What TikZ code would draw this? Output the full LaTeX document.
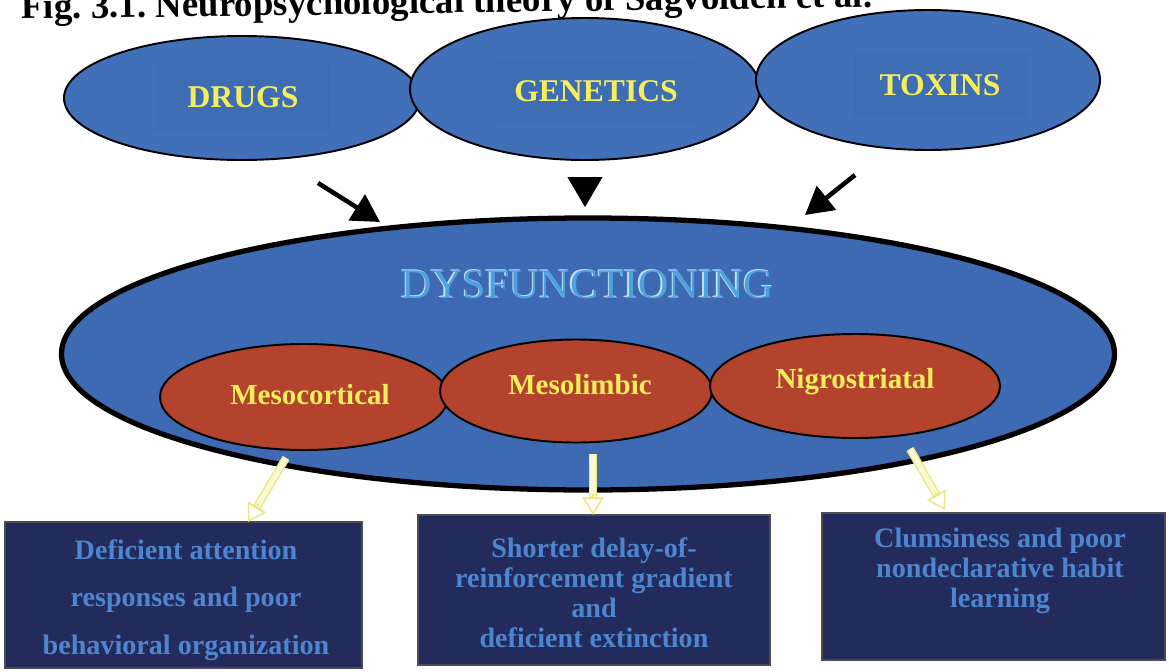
\documentclass[tikz,border=0pt]{standalone}
\usepackage{fontspec}
\setmainfont{Liberation Serif}
\usetikzlibrary{shapes.geometric,arrows.meta,calc}
\frenchspacing
\definecolor{blueF}{HTML}{4170B8}
\definecolor{blueD}{HTML}{3E6DB4}
\definecolor{dysF}{HTML}{3D6AB2}
\definecolor{redF}{HTML}{B3432C}
\definecolor{yellowT}{HTML}{F4EE5C}
\definecolor{dysT}{HTML}{4EA2DE}
\definecolor{dysH}{HTML}{C4DEF4}
\definecolor{boxF}{HTML}{232B5C}
\definecolor{boxT}{HTML}{4E85CF}
\definecolor{yFill}{HTML}{FBF8D6}
\definecolor{yHead}{HTML}{EDE67E}
\tikzset{
  topell/.style={ellipse, draw=black, line width=1.1pt, fill=blueF, inner sep=0pt},
  redell/.style={ellipse, draw=black, line width=1.1pt, fill=redF, inner sep=0pt},
  toplabel/.style={fill=blueD, text=yellowT, inner sep=0pt, font=\bfseries\fontsize{18}{22}\selectfont},
  redlabel/.style={text=yellowT, inner sep=0pt, font=\bfseries\fontsize{16.5}{20}\selectfont},
  blkarrow/.style={line width=2.6pt, -{Triangle[length=0.55cm,width=0.6cm]}},
  yshaftout/.style={draw=yHead, line width=4.6pt, shorten >=9pt},
  yshaftin/.style={draw=yFill, line width=3pt, shorten >=9.5pt},
  yhead/.style={draw=yHead, line width=0.8pt, -{Triangle[open,length=10pt,width=12pt]}},
  outbox/.style={draw=black!70, line width=0.6pt, fill=boxF, inner sep=0pt},
  boxtext/.style={text=boxT, align=center, inner sep=0pt, font=\bfseries\fontsize{16}{17}\selectfont},
  dystext/.style={inner sep=0pt, font=\fontsize{24}{28}\selectfont},
}
\begin{document}
\begin{tikzpicture}
\useasboundingbox (0,0) rectangle (23.38,-13.42);
\clip (0,0) rectangle (23.38,-13.42);
\fill[white] (0,0) rectangle (23.38,-13.42);
% title (cut at top, as in the scan)
\node[anchor=base west, inner sep=0pt, rotate=0.8, font=\bfseries\fontsize{21}{24}\selectfont] (title) at (0.42,-0.38) {Fig. 3.1. Neuropsychological theory of Sagvolden et al.};
% top ellipses
\node[topell, minimum width=7.12cm, minimum height=2.48cm] (drugs) at (4.84,-1.96) {};
\node[topell, minimum width=7.0cm, minimum height=2.84cm] (genetics) at (11.70,-1.78) {};
\node[topell, minimum width=6.88cm, minimum height=2.80cm] (toxins) at (18.56,-1.60) {};
\node[toplabel, minimum width=3.5cm, minimum height=1.35cm] (drugsL) at (4.86,-1.94) {DRUGS};
\node[toplabel, minimum width=4.0cm, minimum height=1.3cm] (geneticsL) at (11.92,-1.82) {GENETICS};
\node[toplabel, minimum width=3.5cm, minimum height=1.3cm] (toxinsL) at (18.8,-1.7) {TOXINS};
% black arrows
\coordinate (a1s) at (6.36,-3.66);
\coordinate (a1e) at (7.6,-4.44);
\coordinate (a2s) at (11.7,-3.54);
\coordinate (a2e) at (11.7,-4.14);
\coordinate (a3s) at (17.1,-3.5);
\coordinate (a3e) at (16.1,-4.3);
\draw[blkarrow] (a1s) -- (a1e);
\draw[-{Triangle[length=0.6cm,width=0.7cm]}, line width=0.5pt] (a2s) -- (a2e);
\draw[blkarrow] (a3s) -- (a3e);
% dysfunctioning
\node[ellipse, draw=black, line width=3pt, fill=dysF, inner sep=0pt, minimum width=21.06cm, minimum height=5.44cm] (dys) at (11.76,-7.08) {};
\node[dystext, text=dysH] (dysH) at (11.73,-5.67) {DYSFUNCTIONING};
\node[dystext, text=dysT] (dysL) at (11.76,-5.70) {DYSFUNCTIONING};
% red ellipses
\node[redell, minimum width=5.76cm, minimum height=2.12cm] (meso) at (6.08,-7.94) {};
\node[redell, minimum width=5.44cm, minimum height=2.06cm] (limb) at (11.52,-7.82) {};
\node[redell, minimum width=5.8cm, minimum height=2.08cm] (nigro) at (17.10,-7.72) {};
\node[redlabel] (mesoL) at (6.2,-7.9) {Mesocortical};
\node[redlabel] (limbL) at (11.6,-7.7) {Mesolimbic};
\node[redlabel] (nigroL) at (17.1,-7.64) {Nigrostriatal};
% boxes
\node[outbox, minimum width=7.14cm, minimum height=2.92cm] (box1) at (3.67,-11.9) {};
\node[outbox, minimum width=7.04cm, minimum height=3.0cm] (box2) at (11.88,-11.8) {};
\node[outbox, minimum width=6.86cm, minimum height=2.94cm] (box3) at (19.87,-11.73) {};
\node[boxtext, font=\bfseries\fontsize{16}{27}\selectfont] (t1) at (3.72,-12.0) {Deficient attention\\responses and poor\\behavioral organization};
\node[boxtext] (t2) at (11.88,-11.86) {Shorter delay-of-\\reinforcement gradient\\and\\deficient extinction};
\node[boxtext] (t3) at (20.0,-11.42) {Clumsiness and poor\\nondeclarative habit\\learning};
% yellow hollow arrows
\coordinate (y1s) at (5.72,-9.16);
\coordinate (y2s) at (11.86,-9.08);
\coordinate (y3s) at (18.2,-8.98);
\coordinate (y1e) at (4.96,-10.44);
\coordinate (y2e) at (11.86,-10.3);
\coordinate (y3e) at (18.9,-10.2);
\foreach \s/\e in {y1s/y1e, y2s/y2e, y3s/y3e}{
  \draw[yshaftout] (\s) -- (\e);
  \draw[yshaftin] (\s) -- (\e);
  \draw[yhead] ($(\e)!12pt!(\s)$) -- (\e);
}
\end{tikzpicture}
\end{document}
